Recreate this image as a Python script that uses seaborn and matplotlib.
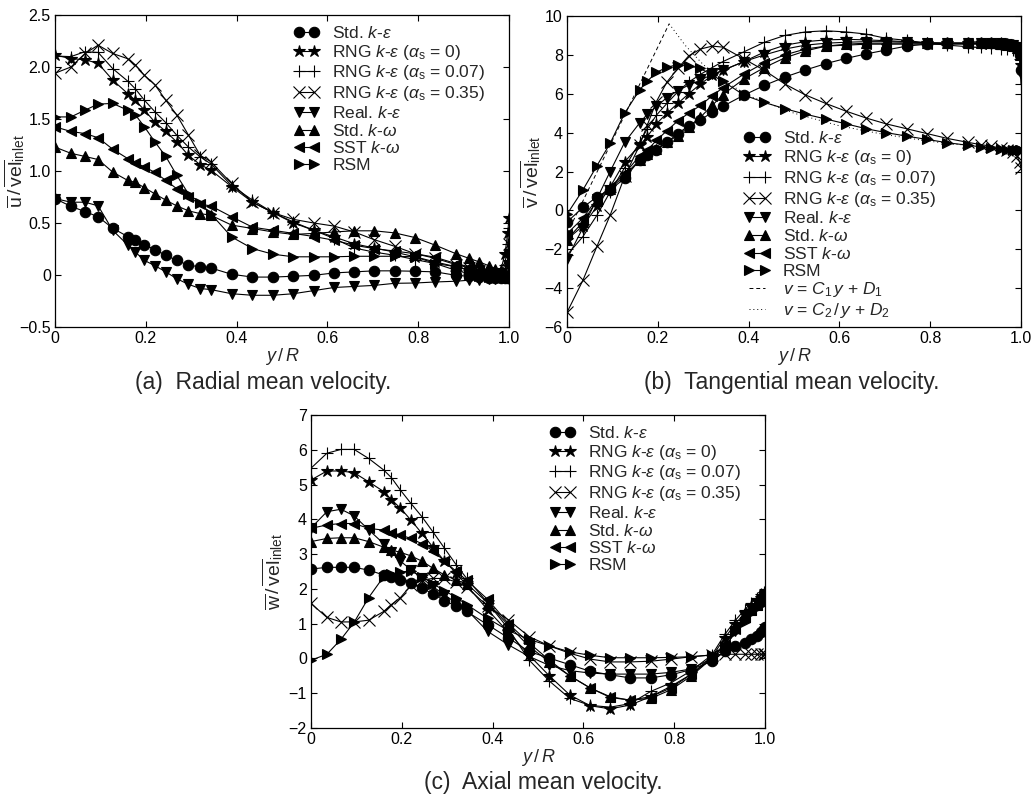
import matplotlib
matplotlib.use("Agg")
import matplotlib.pyplot as plt
import seaborn as sns

# radial position y/R, shared by all curves
yR = [0, 0.035, 0.066, 0.095, 0.127, 0.16, 0.177, 0.197, 0.22, 0.244, 0.268, 0.294, 0.32, 0.343,
      0.389, 0.435, 0.48, 0.525, 0.57, 0.615, 0.659, 0.703, 0.748, 0.793, 0.838, 0.883,
      0.912, 0.935, 0.955, 0.97, 0.982, 0.991, 0.997, 1.0]

models = ["Std. $k$-$\\varepsilon$",
          "RNG $k$-$\\varepsilon$ ($\\alpha_\\mathrm{s}$ = 0)",
          "RNG $k$-$\\varepsilon$ ($\\alpha_\\mathrm{s}$ = 0.07)",
          "RNG $k$-$\\varepsilon$ ($\\alpha_\\mathrm{s}$ = 0.35)",
          "Real. $k$-$\\varepsilon$",
          "Std. $k$-$\\omega$",
          "SST $k$-$\\omega$",
          "RSM"]
markers = ["o", "*", "+", "x", "v", "^", "<", ">"]

# (a) radial mean velocity
u_ske = [0.735, 0.66, 0.61, 0.56, 0.45, 0.37, 0.335, 0.29, 0.245, 0.19, 0.14, 0.095, 0.078, 0.068, 0.007,
         -0.02, -0.02, -0.012, -0.003, 0.02, 0.03, 0.04, 0.04, 0.036, 0.03, -0.003, -0.012, -0.02, -0.025,
         -0.03, -0.03, -0.03, -0.03, -0.03]
u_rng0 = [2.115, 2.08, 2.07, 2.035, 1.875, 1.745, 1.68, 1.585, 1.47, 1.38, 1.28, 1.15, 1.06, 1.01, 0.85,
          0.70, 0.60, 0.50, 0.43, 0.366, 0.30, 0.26, 0.22, 0.175, 0.125, 0.08, 0.045, 0.02, 0.0, -0.01,
          0.05, 0.2, 0.4, 0.55]
u_rng007 = [2.105, 2.10, 2.147, 2.14, 1.985, 1.865, 1.79, 1.68, 1.57, 1.465, 1.345, 1.23, 1.135, 1.07, 0.86,
            0.72, 0.60, 0.51, 0.43, 0.35, 0.26, 0.22, 0.19, 0.148, 0.11, 0.08, 0.05, 0.03, 0.01, 0.0,
            0.0, 0.1, 0.3, 0.45]
u_rng035 = [1.94, 2.0, 2.13, 2.21, 2.13, 2.08, 2.02, 1.92, 1.83, 1.68, 1.54, 1.345, 1.15, 1.09, 0.88,
            0.70, 0.60, 0.535, 0.50, 0.47, 0.414, 0.34, 0.276, 0.205, 0.16, 0.10, 0.07, 0.04, 0.02, 0.0,
            -0.01, 0.0, 0.15, 0.3]
u_real = [0.735, 0.70, 0.70, 0.665, 0.43, 0.29, 0.22, 0.14, 0.09, 0.03, -0.035, -0.09, -0.13, -0.14, -0.18,
          -0.195, -0.195, -0.18, -0.15, -0.12, -0.11, -0.1, -0.08, -0.077, -0.067, -0.06, -0.05, -0.045,
          -0.04, -0.04, -0.03, -0.03, 0.1, 0.2]
u_skw = [1.23, 1.17, 1.14, 1.11, 0.99, 0.91, 0.89, 0.84, 0.78, 0.72, 0.665, 0.617, 0.59, 0.575, 0.48,
         0.447, 0.414, 0.39, 0.40, 0.414, 0.425, 0.425, 0.405, 0.36, 0.286, 0.205, 0.16, 0.125, 0.09, 0.06,
         0.04, 0.02, 0.01, 0.0]
u_sst = [1.425, 1.38, 1.36, 1.32, 1.21, 1.12, 1.08, 1.04, 0.986, 0.91, 0.83, 0.75, 0.68, 0.665, 0.56,
         0.46, 0.43, 0.40, 0.37, 0.334, 0.286, 0.254, 0.23, 0.205, 0.17, 0.11, 0.08, 0.05, 0.03, 0.01,
         0.0, -0.01, -0.02, -0.02]
u_rsm = [1.52, 1.52, 1.585, 1.643, 1.65, 1.585, 1.54, 1.425, 1.28, 1.14, 0.96, 0.78, 0.69, 0.59, 0.366,
         0.254, 0.2, 0.175, 0.175, 0.175, 0.18, 0.18, 0.18, 0.175, 0.11, 0.045, 0.013, -0.01, -0.02, -0.02,
         -0.02, -0.02, -0.02, -0.02]

# (b) tangential mean velocity
v_ske = [-0.6, 0.15, 0.7, 1.05, 1.65, 2.6, 2.85, 3.1, 3.5, 3.95, 4.35, 4.65, 5.05, 5.35, 5.92,
         6.43, 6.86, 7.22, 7.55, 7.82, 8.05, 8.25, 8.45, 8.55, 8.6, 8.6, 8.6, 8.6, 8.55, 8.55,
         8.5, 8.4, 8.0, 7.2]
v_rng0 = [-1.5, -0.8, 0.2, 1.2, 2.5, 3.35, 3.8, 4.45, 5.0, 5.5, 6.0, 6.5, 6.95, 7.2, 7.65,
          8.15, 8.5, 8.68, 8.77, 8.8, 8.77, 8.73, 8.68, 8.63, 8.6, 8.6, 8.6, 8.6, 8.6, 8.55,
          8.5, 8.4, 8.0, 7.5]
v_rng007 = [-2.3, -1.35, -0.25, 0.95, 2.2, 3.5, 4.2, 4.9, 5.5, 6.1, 6.6, 7.0, 7.35, 7.65, 8.15,
            8.65, 9.0, 9.18, 9.24, 9.18, 9.07, 8.85, 8.75, 8.6, 8.5, 8.42, 8.38, 8.35, 8.3, 8.3,
            8.25, 8.2, 7.8, 6.5]
v_rng035 = [-5.25, -3.6, -1.85, -0.25, 1.75, 3.35, 4.4, 5.6, 6.6, 7.3, 7.95, 8.3, 8.45, 8.4, 7.8,
            7.2, 6.5, 5.94, 5.5, 5.1, 4.75, 4.45, 4.2, 3.95, 3.7, 3.5, 3.38, 3.3, 3.2, 3.1,
            3.0, 2.8, 2.5, 2.2]
v_real = [-2.5, -0.9, 0.6, 2.0, 3.5, 4.5, 4.95, 5.35, 5.8, 6.15, 6.45, 6.7, 7.0, 7.2, 7.65,
          8.0, 8.3, 8.5, 8.6, 8.65, 8.68, 8.68, 8.65, 8.62, 8.6, 8.6, 8.6, 8.6, 8.6, 8.55,
          8.5, 8.4, 8.0, 7.0]
v_skw = [-1.5, -0.6, 0.5, 1.1, 1.8, 2.6, 2.9, 3.15, 3.5, 3.85, 4.3, 4.8, 5.4, 5.95, 6.75,
         7.35, 7.85, 8.2, 8.45, 8.55, 8.6, 8.6, 8.6, 8.6, 8.6, 8.6, 8.6, 8.6, 8.55, 8.5,
         8.45, 8.35, 8.0, 7.5]
v_sst = [-1.2, -0.4, 0.6, 1.2, 1.9, 2.8, 3.1, 3.6, 4.1, 4.6, 5.0, 5.4, 5.9, 6.3, 7.0,
         7.6, 8.0, 8.3, 8.45, 8.5, 8.55, 8.55, 8.55, 8.55, 8.55, 8.55, 8.55, 8.55, 8.5, 8.45,
         8.4, 8.3, 8.0, 7.2]
v_rsm = [-0.2, 1.05, 2.3, 3.45, 5.0, 6.2, 6.65, 7.1, 7.36, 7.5, 7.45, 7.3, 6.95, 6.65, 5.94,
         5.55, 5.23, 4.95, 4.7, 4.45, 4.2, 4.0, 3.82, 3.65, 3.48, 3.35, 3.27, 3.2, 3.15, 3.12,
         3.12, 3.12, 3.12, 3.12]
# fitted forced / free vortex lines
fit1_y = [0.0, 0.225]
fit1_v = [-1.2, 9.6]
fit2_y = [0.225, 0.26, 0.3, 0.35, 0.4, 0.5, 0.6, 0.7, 0.8, 0.9, 1.0]
fit2_v = [9.6, 8.5, 7.5, 6.6, 5.9, 5.0, 4.35, 3.9, 3.55, 3.3, 3.1]

# (c) axial mean velocity
w_ske = [2.57, 2.62, 2.62, 2.62, 2.54, 2.4, 2.35, 2.26, 2.16, 2.03, 1.86, 1.66, 1.5, 1.35, 0.97,
         0.59, 0.2, 0.01, -0.18, -0.37, -0.47, -0.56, -0.56, -0.47, -0.32, -0.08, 0.2, 0.35, 0.45, 0.55,
         0.65, 0.75, 0.85, 0.9]
w_rng0 = [5.13, 5.39, 5.39, 5.34, 5.08, 4.8, 4.57, 4.32, 3.98, 3.6, 3.21, 2.8, 2.45, 2.1, 1.4,
          0.75, 0.1, -0.5, -1.05, -1.36, -1.45, -1.34, -1.1, -0.8, -0.45, 0.05, 0.6, 1.0, 1.3, 1.5,
          1.65, 1.75, 1.85, 1.9]
w_rng007 = [5.47, 5.9, 6.01, 6.01, 5.75, 5.42, 5.2, 4.84, 4.46, 4.08, 3.65, 3.17, 2.69, 2.3, 1.6,
            0.85, -0.04, -0.65, -1.15, -1.35, -1.4, -1.3, -0.95, -0.7, -0.35, 0.1, 0.7, 1.1, 1.4, 1.6,
            1.75, 1.85, 1.9, 1.95]
w_rng035 = [1.58, 1.18, 1.05, 1.05, 1.1, 1.35, 1.55, 1.75, 2.1, 2.25, 2.3, 2.3, 2.2, 2.05, 1.5,
            1.11, 0.63, 0.36, 0.15, -0.02, -0.1, -0.1, -0.08, -0.02, 0.05, 0.1, 0.12, 0.12, 0.12, 0.12,
            0.12, 0.12, 0.12, 0.12]
w_real = [3.75, 4.22, 4.29, 4.1, 3.7, 3.3, 3.05, 2.8, 2.55, 2.31, 2.07, 1.83, 1.59, 1.4, 0.78,
          0.39, 0.06, -0.2, -0.35, -0.42, -0.45, -0.45, -0.45, -0.4, -0.3, 0.0, 0.3, 0.8, 1.2, 1.45,
          1.6, 1.7, 1.8, 1.85]
w_skw = [3.36, 3.45, 3.47, 3.47, 3.36, 3.2, 3.12, 3.05, 2.95, 2.8, 2.6, 2.4, 2.25, 2.15, 1.6,
         0.95, 0.35, -0.1, -0.5, -0.85, -1.1, -1.2, -1.15, -0.9, -0.5, 0.0, 0.4, 0.9, 1.2, 1.4,
         1.55, 1.65, 1.75, 1.8]
w_sst = [3.74, 3.84, 3.88, 3.88, 3.74, 3.69, 3.62, 3.55, 3.45, 3.3, 3.1, 2.8, 2.5, 2.25, 1.7,
         1.0, 0.45, -0.05, -0.5, -0.85, -1.12, -1.2, -1.1, -0.85, -0.45, 0.0, 0.4, 0.85, 1.2, 1.4,
         1.55, 1.65, 1.75, 1.8]
w_rsm = [-0.05, 0.12, 0.55, 1.04, 1.75, 2.35, 2.42, 2.48, 2.52, 2.35, 2.15, 1.95, 1.75, 1.55, 1.15,
         0.8, 0.55, 0.36, 0.19, 0.09, 0.02, 0.02, 0.02, 0.03, 0.05, 0.1, 0.35, 0.75, 1.05, 1.3,
         1.45, 1.55, 1.6, 1.65]

x_ticks = [0, 0.2, 0.4, 0.6, 0.8, 1.0]
x_ticklabels = ["0", "0.2", "0.4", "0.6", "0.8", "1.0"]
u_ticks = [-0.5, 0, 0.5, 1.0, 1.5, 2.0, 2.5]
u_ticklabels = ["\u22120.5", "0", "0.5", "1.0", "1.5", "2.0", "2.5"]
v_ticks = [-6, -4, -2, 0, 2, 4, 6, 8, 10]
v_ticklabels = ["\u22126", "\u22124", "\u22122", "0", "2", "4", "6", "8", "10"]
w_ticks = [-2, -1, 0, 1, 2, 3, 4, 5, 6, 7]
w_ticklabels = ["\u22122", "\u22121", "0", "1", "2", "3", "4", "5", "6", "7"]

sns.set_style("ticks")
plt.rcParams["font.family"] = ["Liberation Sans", "DejaVu Sans"]
plt.rcParams["mathtext.fontset"] = "custom"
plt.rcParams["mathtext.rm"] = "Liberation Sans"
plt.rcParams["mathtext.it"] = "Liberation Sans:italic"
plt.rcParams["mathtext.bf"] = "Liberation Sans:bold"

fig = plt.figure(figsize=(10.36, 7.98), dpi=100)
ax_a = fig.add_axes([55 / 1036, 1 - 327 / 798, 454 / 1036, 312 / 798])
ax_b = fig.add_axes([567 / 1036, 1 - 327 / 798, 454 / 1036, 311 / 798])
ax_c = fig.add_axes([311 / 1036, 1 - 728 / 798, 454 / 1036, 313 / 798])

leg_kw = dict(numpoints=2, frameon=False, loc="upper left", fontsize=12.5, handlelength=1.5,
              handletextpad=0.75, labelspacing=0.1, borderpad=0, borderaxespad=0)


def draw_models(ax, series):
    for vals, lab, m in zip(series, models, markers):
        ms = 9 if m == "*" else 7.5
        if m in ("+", "x"):
            ms = 8
        sns.lineplot(x=yR, y=vals, ax=ax, color="k", lw=0.8, marker=m, markersize=ms,
                     markerfacecolor="k", markeredgecolor="k", markeredgewidth=0.8,
                     label=lab, estimator=None, sort=False)


def style_axes(ax, yticks, yticklabels, ylim, ylabel, label_x):
    ax.set_xlim(0, 1.0)
    ax.set_ylim(*ylim)
    ax.set_xticks(x_ticks)
    ax.set_xticklabels(x_ticklabels)
    ax.set_yticks(yticks)
    ax.set_yticklabels(yticklabels)
    ax.tick_params(direction="in", top=True, right=True, length=4, width=0.8,
                   labelsize=11.5, pad=3, colors="k")
    for s in ax.spines.values():
        s.set_linewidth(0.9)
        s.set_color("k")
    ax.set_xlabel("$y\\,/\\,R$", fontsize=13, labelpad=0)
    ax.set_ylabel(ylabel, fontsize=14)
    ax.yaxis.set_label_coords(label_x, 0.5)


draw_models(ax_a, [u_ske, u_rng0, u_rng007, u_rng035, u_real, u_skw, u_sst, u_rsm])
style_axes(ax_a, u_ticks, u_ticklabels, (-0.5, 2.5),
           "$\\overline{\\mathrm{u}}\\,/\\,\\overline{\\mathrm{vel}}_{\\mathrm{inlet}}$", -0.062)
ax_a.legend(bbox_to_anchor=(0.525, 0.968), **leg_kw)

draw_models(ax_b, [v_ske, v_rng0, v_rng007, v_rng035, v_real, v_skw, v_sst, v_rsm])
sns.lineplot(x=fit1_y, y=fit1_v, ax=ax_b, color="k", lw=0.7, linestyle=(0, (4, 3)),
             label="$v$ = $C_1\\,y$ + $D_1$", estimator=None, sort=False)
sns.lineplot(x=fit2_y, y=fit2_v, ax=ax_b, color="k", lw=0.7, linestyle=(0, (1, 3)),
             label="$v$ = $C_2\\,/\\,y$ + $D_2$", estimator=None, sort=False)
style_axes(ax_b, v_ticks, v_ticklabels, (-6, 10),
           "$\\overline{\\mathrm{v}}\\,/\\,\\overline{\\mathrm{vel}}_{\\mathrm{inlet}}$", -0.053)
ax_b.legend(bbox_to_anchor=(0.39, 0.632), **leg_kw)

draw_models(ax_c, [w_ske, w_rng0, w_rng007, w_rng035, w_real, w_skw, w_sst, w_rsm])
style_axes(ax_c, w_ticks, w_ticklabels, (-2, 7),
           "$\\overline{\\mathrm{w}}\\,/\\,\\overline{\\mathrm{vel}}_{\\mathrm{inlet}}$", -0.057)
ax_c.legend(bbox_to_anchor=(0.525, 0.968), **leg_kw)

fig.text(263 / 1036, 1 - 383 / 798, "(a)  Radial mean velocity.", ha="center", va="center", fontsize=16.5)
fig.text(792 / 1036, 1 - 383 / 798, "(b)  Tangential mean velocity.", ha="center", va="center", fontsize=16.5)
fig.text(543 / 1036, 1 - 783 / 798, "(c)  Axial mean velocity.", ha="center", va="center", fontsize=16.5)

fig.savefig("out.png", dpi=100, facecolor="white")
